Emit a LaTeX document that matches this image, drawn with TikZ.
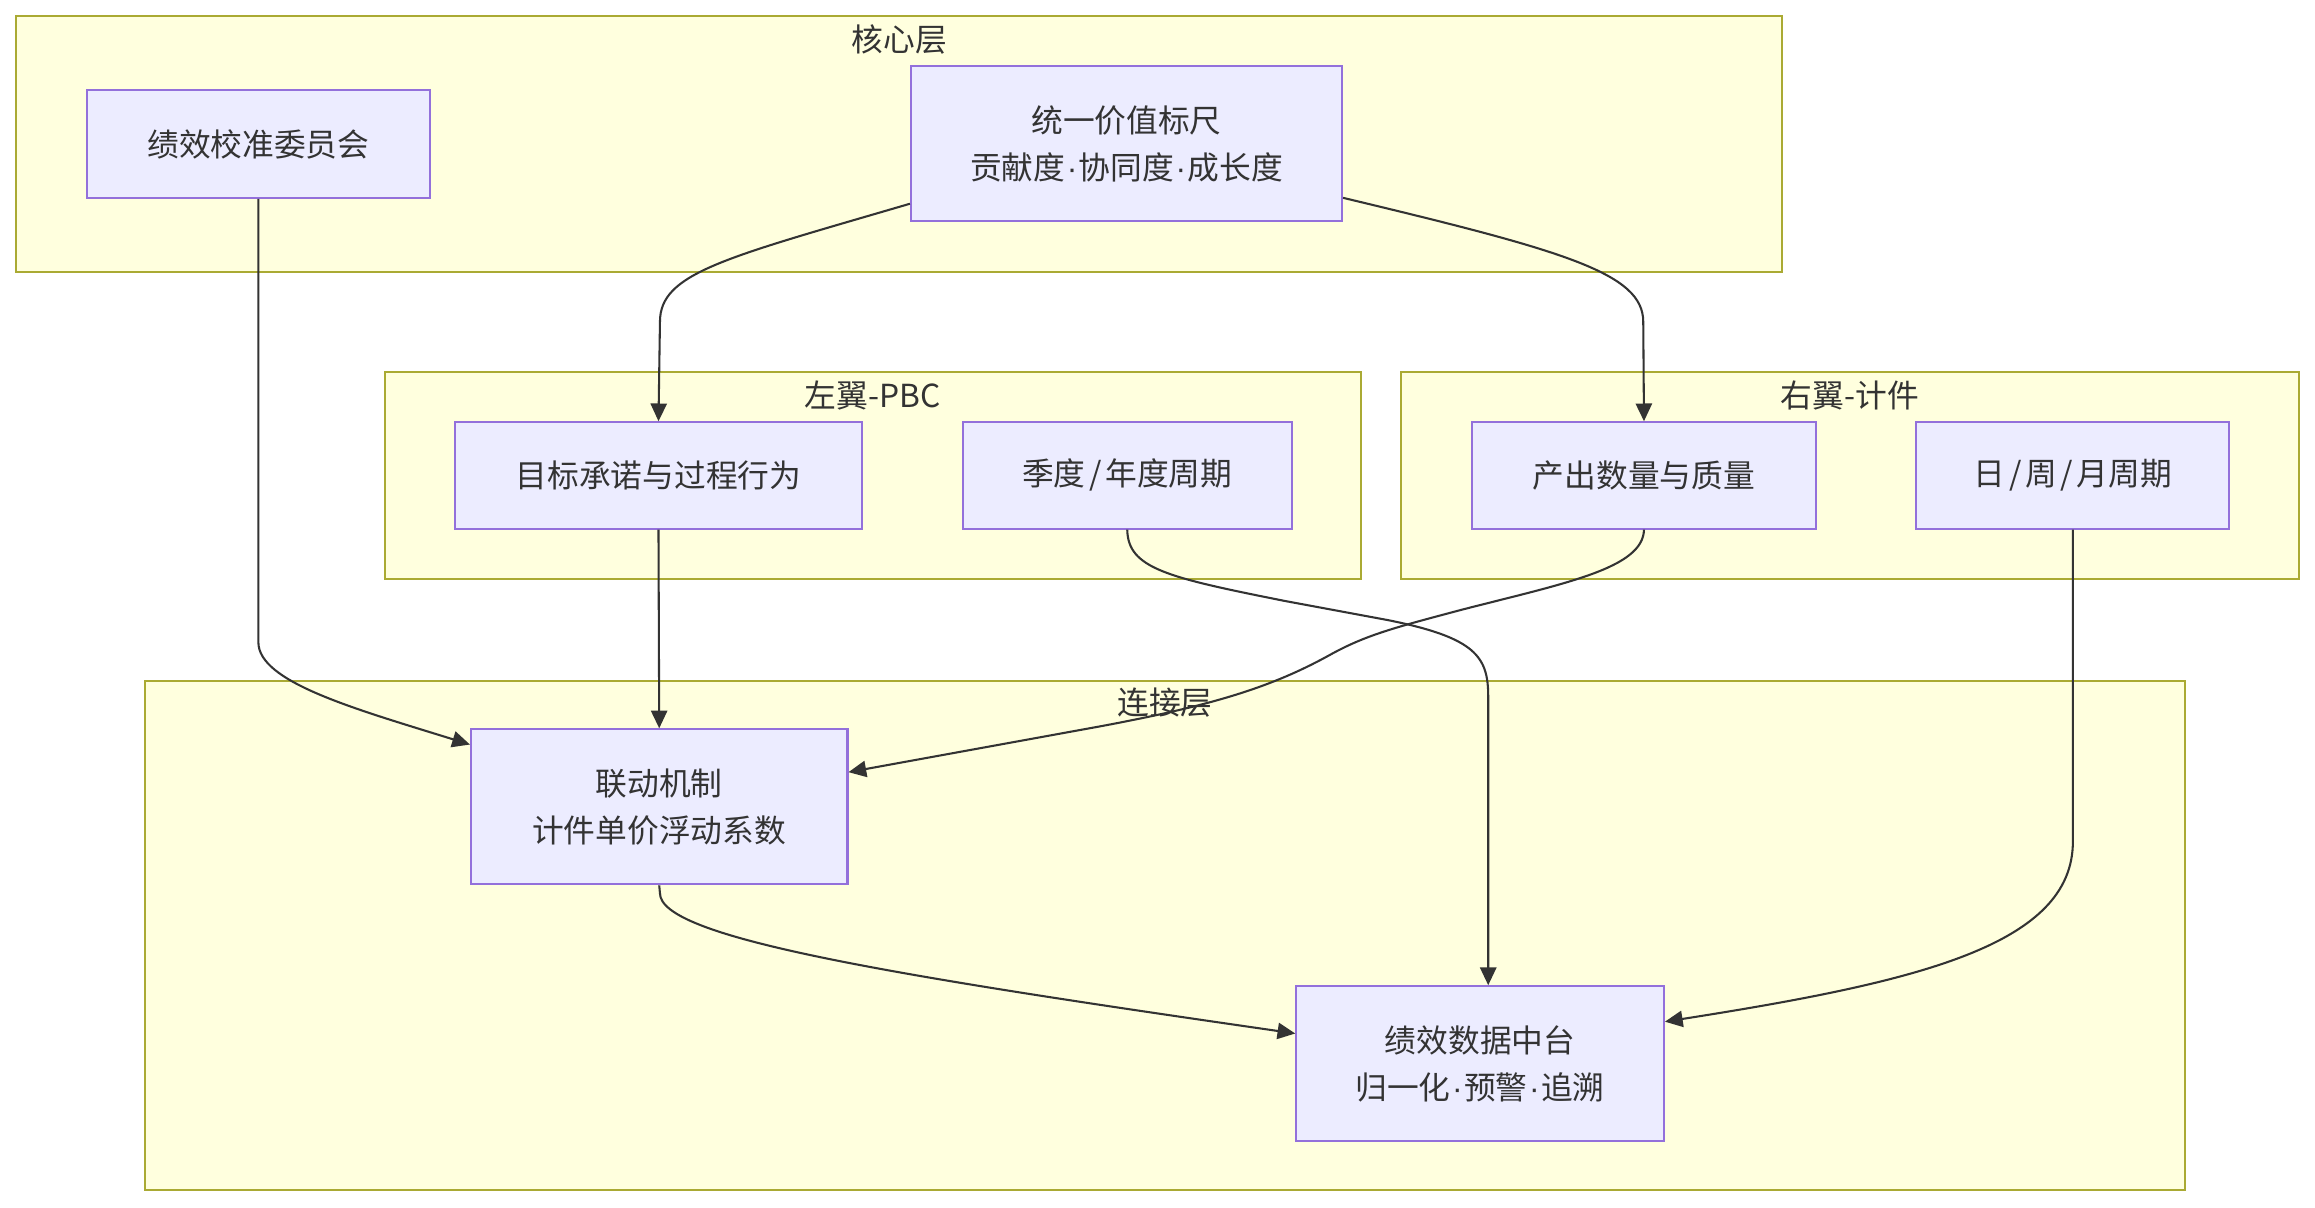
\documentclass[tikz,border=0pt]{standalone}
\usepackage{fontspec}
\setmainfont{Noto Sans CJK SC}
\newfontfamily\dotfont{Liberation Sans}
\newcommand{\mdot}{{\dotfont\kern1pt·\kern1pt}}
\newcommand{\sls}{\kern2.5pt/\kern2.5pt}
\usetikzlibrary{arrows.meta,calc}
\definecolor{clfill}{HTML}{FFFFDE}
\definecolor{clline}{HTML}{AAAA33}
\definecolor{ndfill}{HTML}{ECECFF}
\definecolor{ndline}{HTML}{9370DB}
\definecolor{txt}{HTML}{333333}
\definecolor{edge}{HTML}{333333}
\begin{document}
\begin{tikzpicture}[x=1pt,y=-1pt,
  cluster/.style={draw=clline,fill=clfill,line width=1.4pt},
  cltext/.style={font=\fontsize{21.5}{26}\selectfont,text=txt,inner sep=0pt},
  box/.style={draw=ndline,fill=ndfill,line width=1.4pt,font=\fontsize{21.5}{32}\selectfont,text=txt,align=center,inner sep=0pt},
  conn/.style={draw=edge,line width=1.4pt,-{Triangle[length=12pt,width=11pt]}}]
\useasboundingbox (0,0) rectangle (1568,818);
\fill[white] (0,0) rectangle (1568,818);
% clusters
\draw[cluster] (11,11) rectangle (1207,184);
\node[cltext] (lcore) at (609,27) {核心层};
\draw[cluster] (261,252) rectangle (922,392);
\node[cltext] (lleft) at (591,268) {左翼-PBC};
\draw[cluster] (949,252) rectangle (1557,392);
\node[cltext] (lright) at (1253,268) {右翼-计件};
\draw[cluster] (98,461) rectangle (1480,806);
\node[cltext] (llink) at (789,476) {连接层};
% nodes
\node[box,minimum width=232pt,minimum height=73pt] (cal) at (175,97.5) {绩效校准委员会};
\node[box,minimum width=292pt,minimum height=105pt] (scale) at (763,97.5) {统一价值标尺\\贡献度\mdot 协同度\mdot 成长度};
\node[box,minimum width=276pt,minimum height=72pt] (goal) at (446,322) {目标承诺与过程行为};
\node[box,minimum width=223pt,minimum height=72pt] (qtr) at (763.5,322) {季度\sls 年度周期};
\node[box,minimum width=233pt,minimum height=72pt] (out) at (1113.5,322) {产出数量与质量};
\node[box,minimum width=212pt,minimum height=72pt] (day) at (1404,322) {日\sls 周\sls 月周期};
\node[box,minimum width=255pt,minimum height=105pt] (link) at (446.5,546.5) {联动机制\\计件单价浮动系数};
\node[box,minimum width=249pt,minimum height=105pt] (data) at (1002.5,720.5) {绩效数据中台\\归一化\mdot 预警\mdot 追溯};
% edges
\draw[conn] (cal.south) -- (175,435) .. controls (175,462) and (240,480) .. ($(link.north west)+(0,11)$);
\draw[conn] ($(scale.west)+(0,40.5)$) .. controls (490,175) and (447,185) .. (447,218) -- (goal.north);
\draw[conn] ($(scale.east)+(0,36.5)$) .. controls (1060,170) and (1113,185) .. (1113,218) -- (out.north);
\draw[conn] (goal.south) -- (link.north);
\draw[conn] (qtr.south) .. controls (764,385) and (790,391) .. (870,407) -- (940,420) .. controls (1000,432) and (1008,445) .. (1008,472) -- ($(data.north)+(5.5,0)$);
\draw[conn] (out.south) .. controls (1113,385) and (1060,395) .. (990,413) .. controls (945,425) and (925,430) .. (900,444) .. controls (860,466) and (820,478) .. (745,492) -- ($(link.east)+(0,-23.5)$);
\draw[conn] (day.south) -- (1404,570) .. controls (1404,640) and (1300,665) .. ($(data.east)+(0,-28.5)$);
\draw[conn] (link.south) -- (447,605) .. controls (447,635) and (600,660) .. ($(data.west)+(0,-20.5)$);
\end{tikzpicture}
\end{document}
